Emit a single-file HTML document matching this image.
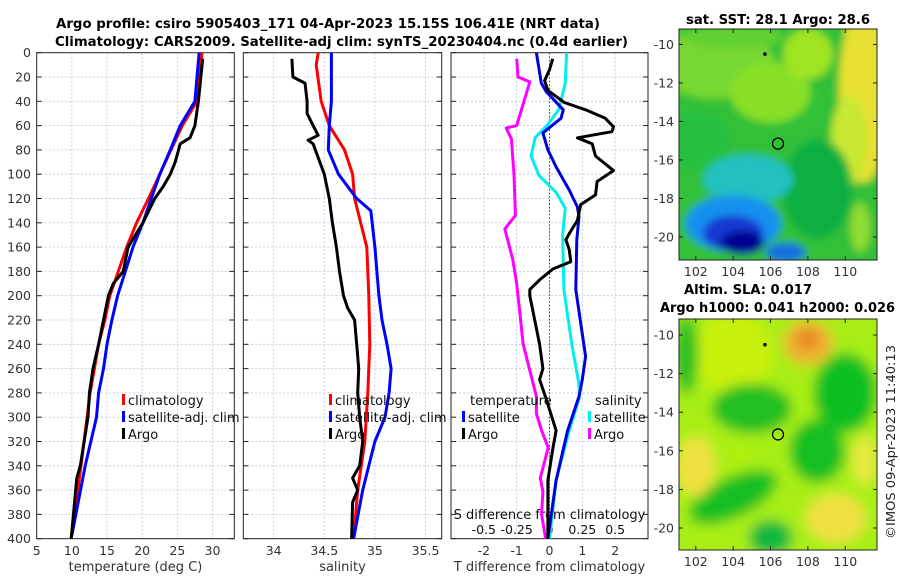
<!DOCTYPE html>
<html><head><meta charset="utf-8"><style>
body{margin:0;background:#fff;}
svg{display:block;font-family:"DejaVu Sans","Liberation Sans",sans-serif;}
</style></head><body>
<svg id="fig" width="900" height="580" viewBox="0 0 900 580">
<defs>
<filter id="bl1" x="-50%" y="-50%" width="200%" height="200%"><feGaussianBlur stdDeviation="6"/></filter>
<filter id="bl2" x="-50%" y="-50%" width="200%" height="200%"><feGaussianBlur stdDeviation="4"/></filter>
<clipPath id="cm1"><rect x="679" y="29" width="198" height="231"/></clipPath>
<clipPath id="cm2"><rect x="679" y="319" width="198" height="231"/></clipPath>
</defs>
<g font-weight="bold" font-size="13" fill="#000">
<text x="56" y="28" textLength="544" lengthAdjust="spacingAndGlyphs">Argo profile: csiro 5905403_171 04-Apr-2023 15.15S 106.41E (NRT data)</text>
<text x="55" y="46" textLength="573" lengthAdjust="spacingAndGlyphs">Climatology: CARS2009. Satellite-adj clim: synTS_20230404.nc (0.4d earlier)</text>
</g>
<g id="axes"></g>
<g id="maps"></g>
<text transform="translate(895,442) rotate(-90)" text-anchor="middle" font-size="12.5" fill="#222" textLength="194" lengthAdjust="spacingAndGlyphs">©IMOS 09-Apr-2023 11:40:13</text>
</svg>
<script>
// ---- data ----
const depthTicks=[0,20,40,60,80,100,120,140,160,180,200,220,240,260,280,300,320,340,360,380,400];
const tTicks=[5,10,15,20,25,30];
const sTicks=[34,34.5,35,35.5];
const dTicks=[-2,-1,0,1,2];
const sdTickLabels=["-0.5","-0.25","0","0.25","0.5"];
const sdTickVals=[-0.5,-0.25,0,0.25,0.5];
const tempClimDepth=[0,40,60,80,100,120,140,160,180,200,220,240,260,280,340,400];
const tempClimVal=[28.5,27.8,25.7,24.1,22.5,20.9,19.2,17.8,16.6,15.4,14.7,13.8,13.2,12.6,11.3,9.9];
const tempSatDepth=[0,40,60,80,100,120,140,160,180,200,220,240,260,280,300,340,400];
const tempSatVal=[28.1,27.5,25.4,24.0,22.5,21.3,20.1,18.7,17.6,16.5,15.7,15.0,14.5,13.8,13.5,11.9,9.9];
const tempArgoDepth=[5,40,60,70,75,90,100,110,120,140,160,180,190,200,220,240,260,280,300,340,350,400];
const tempArgoVal=[28.6,28.0,27.5,26.8,25.4,24.7,24.0,23.0,21.8,20.1,18.0,17.3,15.9,15.2,14.5,13.8,13.0,12.5,12.3,11.2,10.7,9.9];
const salClimDepth=[0,10,40,60,80,100,120,160,200,240,280,320,360,400];
const salClimVal=[34.44,34.42,34.47,34.55,34.70,34.78,34.80,34.92,34.94,34.95,34.93,34.90,34.83,34.79];
const salSatDepth=[0,40,60,80,100,120,130,160,200,220,240,260,280,300,320,360,400];
const salSatVal=[34.57,34.57,34.55,34.54,34.64,34.82,34.96,35.0,35.04,35.07,35.12,35.16,35.14,35.1,35.0,34.88,34.79];
const salArgoDepth=[5,20,25,40,50,60,68,72,75,100,120,140,160,180,200,210,220,240,260,280,300,320,340,350,360,370,400];
const salArgoVal=[34.18,34.19,34.31,34.33,34.33,34.39,34.44,34.34,34.39,34.5,34.55,34.58,34.62,34.65,34.69,34.73,34.80,34.82,34.84,34.83,34.85,34.88,34.85,34.78,34.83,34.78,34.77];
const dTsatDepth=[0,25,32,47,54,66,80,94,113,127,135,154,195,250,269,283,311,352,400];
const dTsatVal=[-0.4,-0.25,-0.1,0.42,0.35,-0.2,-0.05,0.2,0.6,0.85,0.9,0.83,0.8,1.1,1.0,0.9,0.55,0.2,-0.05];
const dTargoDepth=[5,14,23,31,41,47,54,61,65,70,75,85,97,106,117,125,138,149,154,162,172,178,187,195,200,220,240,260,269,285,311,326,352,400];
const dTargoVal=[0.1,0.0,-0.15,-0.05,0.45,1.1,1.7,1.95,1.9,0.85,1.3,1.4,1.95,1.45,1.4,0.95,0.85,0.6,0.5,0.6,0.65,0.1,-0.3,-0.6,-0.6,-0.45,-0.3,-0.2,-0.3,-0.1,0.2,0.1,-0.05,-0.05];
const dSsatDepth=[0,25,47,60,70,85,101,115,128,150,195,240,270,283,311,352,400];
const dSsatVal=[0.13,0.12,0.07,-0.02,-0.11,-0.14,-0.08,0.05,0.12,0.1,0.11,0.17,0.22,0.23,0.15,0.05,0.0];
const dSargoDepth=[5,20,24,60,62,71,100,134,145,170,190,240,283,297,311,325,350,361,380,400];
const dSargoVal=[-0.25,-0.24,-0.15,-0.25,-0.33,-0.29,-0.27,-0.26,-0.34,-0.28,-0.25,-0.2,-0.1,-0.1,-0.06,-0.01,-0.07,-0.05,-0.06,-0.03];
const lonTicks=[102,104,106,108,110];
const latTicks=[-10,-12,-14,-16,-18,-20];
const argoLon=106.4, argoLat=-15.15;

// ---- helpers ----
const NS="http://www.w3.org/2000/svg";
function mk(tag,attrs,parent){const e=document.createElementNS(NS,tag);for(const k in attrs)e.setAttribute(k,attrs[k]);parent.appendChild(e);return e;}
const yTop=52.7,yBot=538.7;
const yD=d=>yTop+(d/400)*(yBot-yTop);
const panels=[
 {name:"temperature",x0:36.7,x1:234.3,v0:5,v1:33.1},
 {name:"salinity",x0:243.3,x1:441.7,v0:33.7,v1:35.66},
 {name:"difference",x0:451,x1:648,v0:-3,v1:3}
];
const ax=panels.map(p=>v=>p.x0+(v-p.v0)/(p.v1-p.v0)*(p.x1-p.x0));
const sdX=s=>ax[2](s*4);
const G=document.getElementById('axes');

function line(ds,vs,fx,color,name,parent){
  const pts=ds.map((d,i)=>fx(vs[i]).toFixed(1)+","+yD(d).toFixed(1)).join(" ");
  const e=mk('polyline',{points:pts,fill:"none",stroke:color,"stroke-width":3,"stroke-linejoin":"round"},parent);
  
  
}

panels.forEach((p,pi)=>{
  const g=mk('g',{},G);
  
  
  const vt=pi==0?tTicks:pi==1?sTicks:dTicks;
  depthTicks.forEach(d=>{if(d>0&&d<400)mk('line',{x1:p.x0,x2:p.x1,y1:yD(d),y2:yD(d),stroke:"#b8c4e0","stroke-width":0.8,"stroke-dasharray":"2,2"},g);});
  vt.forEach(v=>{const x=ax[pi](v);if(x>p.x0+1&&x<p.x1-1)mk('line',{x1:x,x2:x,y1:yTop,y2:yBot,stroke:"#b8c4e0","stroke-width":0.8,"stroke-dasharray":"2,2"},g);});
  if(pi==2){mk('line',{x1:ax[2](0),x2:ax[2](0),y1:yTop,y2:yBot,stroke:"#444","stroke-width":1,"stroke-dasharray":"1.5,2"},g);}
  mk('rect',{x:p.x0,y:yTop,width:p.x1-p.x0,height:yBot-yTop,fill:"none",stroke:"#222","stroke-width":1},g);
  depthTicks.forEach(d=>{mk('line',{x1:p.x0,x2:p.x0+5,y1:yD(d),y2:yD(d),stroke:"#222"},g);mk('line',{x1:p.x1,x2:p.x1-5,y1:yD(d),y2:yD(d),stroke:"#222"},g);});
  vt.forEach(v=>{const x=ax[pi](v);
    const t=mk('text',{x:x,y:555,"text-anchor":"middle","font-size":12.5,fill:"#333"},g);t.textContent=String(v);
    
    
  });
});
depthTicks.forEach(d=>{const t=mk('text',{x:31,y:yD(d)+4.5,"text-anchor":"end","font-size":12.5,fill:"#333"},G);t.textContent=String(d);
  
  });
[["temperature (deg C)",135.5],["salinity",342.5],["T difference from climatology",549.5]].forEach(([s,x])=>{
  const t=mk('text',{x:x,y:571,"text-anchor":"middle","font-size":13,fill:"#333"},G);t.textContent=s;
  
  });
{const t=mk('text',{x:549.5,y:519,"text-anchor":"middle","font-size":13,fill:"#111"},G);t.textContent="S difference from climatology";
 
 
 sdTickVals.forEach((v,i)=>{const u=mk('text',{x:sdX(v),y:534,"text-anchor":"middle","font-size":12.5,fill:"#111"},G);u.textContent=sdTickLabels[i];
 
 });}

line(tempClimDepth,tempClimVal,ax[0],"#ff0000","temp-climatology-line",G);
line(tempSatDepth,tempSatVal,ax[0],"#0000ff","temp-satellite-line",G);
line(tempArgoDepth,tempArgoVal,ax[0],"#000000","temp-argo-line",G);
line(salClimDepth,salClimVal,ax[1],"#ff0000","sal-climatology-line",G);
line(salSatDepth,salSatVal,ax[1],"#0000ff","sal-satellite-line",G);
line(salArgoDepth,salArgoVal,ax[1],"#000000","sal-argo-line",G);
line(dSargoDepth,dSargoVal,sdX,"#ff00ff","sdiff-argo-line",G);
line(dSsatDepth,dSsatVal,sdX,"#00eeee","sdiff-satellite-line",G);
line(dTsatDepth,dTsatVal,ax[2],"#0000dd","tdiff-satellite-line",G);
line(dTargoDepth,dTargoVal,ax[2],"#000000","tdiff-argo-line",G);

function legend(x,y,items,name){
  const g=mk('g',{},G);
  
  
  items.forEach((it,i)=>{
    if(it[1])mk('rect',{x:x,y:y+i*17-11,width:3,height:11,fill:it[1]},g);
    const t=mk('text',{x:x+(it[1]?6:0),y:y+i*17,"font-size":13,fill:"#111"},g);t.textContent=it[0];
  });
}
legend(122,405,[["climatology","#ff0000"],["satellite-adj. clim","#0000ff"],["Argo","#000"]],"temperature-legend");
legend(329,405,[["climatology","#ff0000"],["satellite-adj. clim","#0000ff"],["Argo","#000"]],"salinity-legend");
legend(470,405,[["temperature",null]],"tdiff-legend-title");
legend(462,422,[["satellite","#0000ff"],["Argo","#000"]],"tdiff-legend");
legend(595,405,[["salinity",null]],"sdiff-legend-title");
legend(588,422,[["satellite","#00eeee"],["Argo","#ff00ff"]],"sdiff-legend");

// ---- maps ----
const M=document.getElementById('maps');
function mapAxes(y0,y1,latTop,latPerPx,clip,filt,blobs,bg,name){
  const x0=679,x1=877,lon0=101.1,lon1=111.7;
  const fx=l=>x0+(l-lon0)/(lon1-lon0)*(x1-x0);
  const fy=la=>y0+(latTop-la)*latPerPx;
  const g=mk('g',{},M);
  
  
  const c=mk('g',{"clip-path":"url(#"+clip+")"},g);
  mk('rect',{x:x0,y:y0,width:x1-x0,height:y1-y0,fill:bg},c);
  const b=mk('g',{filter:"url(#"+filt+")"},c);
  mk('rect',{x:x0-30,y:y0-30,width:x1-x0+60,height:y1-y0+60,fill:bg},b);
  blobs.forEach(o=>mk('ellipse',{cx:fx(o[0]),cy:fy(o[1]),rx:o[2],ry:o[3],fill:o[4],transform:`rotate(${o[5]||0} ${fx(o[0])} ${fy(o[1])})`},b));
  mk('rect',{x:x0,y:y0,width:x1-x0,height:y1-y0,fill:"none",stroke:"#222"},g);
  lonTicks.forEach(l=>{mk('line',{x1:fx(l),x2:fx(l),y1:y1,y2:y1-4,stroke:"#222"},g);mk('line',{x1:fx(l),x2:fx(l),y1:y0,y2:y0+4,stroke:"#222"},g);
    const t=mk('text',{x:fx(l),y:y1+16,"text-anchor":"middle","font-size":12.5,fill:"#333"},g);t.textContent=String(l);});
  latTicks.forEach(la=>{mk('line',{x1:x0,x2:x0+4,y1:fy(la),y2:fy(la),stroke:"#222"},g);mk('line',{x1:x1,x2:x1-4,y1:fy(la),y2:fy(la),stroke:"#222"},g);
    const t=mk('text',{x:x0-5,y:fy(la)+4.5,"text-anchor":"end","font-size":12.5,fill:"#333"},g);t.textContent=String(la);});
  const ci=mk('circle',{cx:fx(argoLon),cy:fy(argoLat),r:5.5,fill:"none",stroke:"#000","stroke-width":1.3},g);
  
  
  mk('circle',{cx:fx(105.7),cy:fy(-10.5),r:1.8,fill:"#000"},g);
}
mapAxes(29,260,-9.2,19.26,"cm1","bl2",[
 [103,-11,60,35,"#78d830"],[106,-12.5,40,30,"#88e028"],[108,-10.5,25,25,"#a0e420"],[104,-9.6,50,12,"#60d030"],
 [111,-12.5,25,90,"#e8e030"],[110.2,-15,18,45,"#c8e830"],[110.8,-19.5,10,25,"#90dc30"],
 [102,-15,35,30,"#28c040"],[108.5,-17.5,35,50,"#10b040"],[104.8,-17,45,25,"#20c0c0"],[104,-19.3,48,28,"#1890f0"],
 [104,-19.8,30,18,"#1838d0"],[104.5,-20.3,22,12,"#000090"],[106.8,-20.8,20,10,"#1870e0"]
],"#30c038","sst-map");
mapAxes(319,550,-9.17,19.3,"cm2","bl1",[
 [104,-11,40,40,"#c8f010"],[101.5,-11,12,40,"#20c020"],[108,-10.4,25,22,"#f0b030"],[108,-10.2,10,10,"#e88020"],
 [110,-13,32,40,"#10c020"],[105,-13.8,40,25,"#20c020"],[108.5,-16,28,32,"#18c020"],[104,-18.4,48,20,"#18c020",-25],
 [106,-20.5,22,18,"#10b840"],[102,-16.8,20,30,"#f0e040"],[109.5,-19.5,30,25,"#f0e040"],[111,-16.5,12,25,"#e8e840"],
 [104.3,-16.2,12,12,"#b0f010"]
],"#a8ee18","sla-map");
[["sat. SST: 28.1 Argo: 28.6",686,24,184],["Altim. SLA: 0.017",684,294,128],["Argo h1000: 0.041 h2000: 0.026",660,312,235]].forEach(([s,x,y,w])=>{
  const t=mk('text',{x:x,y:y,"font-size":13,"font-weight":"bold",fill:"#000",textLength:w,lengthAdjust:"spacingAndGlyphs"},M);t.textContent=s;
  
  });
</script>
</body></html>
